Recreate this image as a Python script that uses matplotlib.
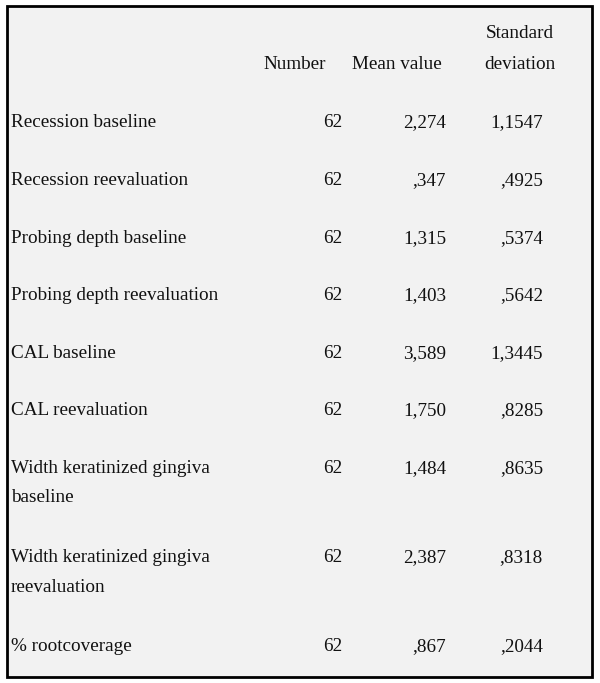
import matplotlib.pyplot as plt
from matplotlib.patches import Rectangle

# table content
row_labels = [
    "Recession baseline",
    "Recession reevaluation",
    "Probing depth baseline",
    "Probing depth reevaluation",
    "CAL baseline",
    "CAL reevaluation",
    "Width keratinized gingiva\nbaseline",
    "Width keratinized gingiva\nreevaluation",
    "% rootcoverage",
]
numbers = ["62", "62", "62", "62", "62", "62", "62", "62", "62"]
means = ["2,274", ",347", "1,315", "1,403", "3,589", "1,750", "1,484", "2,387", ",867"]
std_devs = ["1,1547", ",4925", ",5374", ",5642", "1,3445", ",8285", ",8635", ",8318", ",2044"]
headers = ["Number", "Mean value", "Standard\ndeviation"]

W, H = 600, 683
# text baselines (pixels from top)
row_base = [127, 185, 243, 300, 358, 415, 473, 562, 651]
line_gap = 29.5

plt.rcParams['font.family'] = ['Liberation Serif', 'DejaVu Serif']
fig = plt.figure(figsize=(W / 100, H / 100), dpi=100)
fig.patch.set_facecolor("white")
ax = fig.add_axes([0, 0, 1, 1])
ax.set_xlim(0, W)
ax.set_ylim(H, 0)
ax.axis("off")

ax.add_patch(Rectangle((7, 6), 585, 671, facecolor="#f2f2f2",
                       edgecolor="black", linewidth=2))

fs = 13.8
txt = "#111111"
kw = dict(va="baseline", fontsize=fs, color=txt)

# headers
ax.text(295, 69, headers[0], ha="center", **kw)
ax.text(397, 69, headers[1], ha="center", **kw)
for k, ln in enumerate(headers[2].split("\n")):
    ax.text(520, 38 + k * 31, ln, ha="center", **kw)

for i, y in enumerate(row_base):
    for k, ln in enumerate(row_labels[i].split("\n")):
        ax.text(11, y + k * line_gap, ln, ha="left", **kw)
    ax.text(342, y, numbers[i], ha="right", **kw)
    ax.text(446, y, means[i], ha="right", **kw)
    ax.text(543, y, std_devs[i], ha="right", **kw)

fig.savefig("out.png", dpi=100)
